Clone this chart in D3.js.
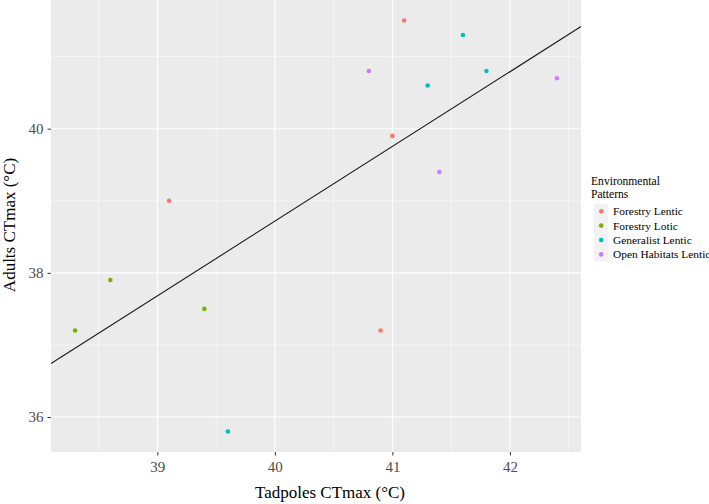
<!DOCTYPE html>
<html>
<head>
<meta charset="utf-8">
<script src="https://cdn.jsdelivr.net/npm/d3@7"></script>
<style>
  html, body { margin: 0; padding: 0; background: #fff; }
  svg { display: block; }
  text { font-family: "Liberation Serif", "Times New Roman", serif; }
</style>
</head>
<body>
<svg id="chart" width="709" height="504"></svg>
<script>
// ---- data ----
const groups = ["Forestry Lentic", "Forestry Lotic", "Generalist Lentic", "Open Habitats Lentic"];
const colors = ["#F8766D", "#7CAE00", "#00BFC4", "#C77CFF"];
const tadpolesForestryLentic = [39.1, 41.0, 41.1, 40.9];
const adultsForestryLentic   = [39.0, 39.9, 41.5, 37.2];
const tadpolesForestryLotic  = [38.3, 38.6, 39.4];
const adultsForestryLotic    = [37.2, 37.9, 37.5];
const tadpolesGeneralist     = [39.6, 41.3, 41.6, 41.8];
const adultsGeneralist       = [35.8, 40.6, 41.3, 40.8];
const tadpolesOpenHabitats   = [40.8, 41.4, 42.4];
const adultsOpenHabitats     = [40.8, 39.4, 40.7];
const xTicks = [39, 40, 41, 42];
const yTicks = [36, 38, 40];
const xMinor = [38.5, 39.5, 40.5, 41.5, 42.5];
const yMinor = [37, 39, 41];
const legendTitle = ["Environmental", "Patterns"];

const xs = [tadpolesForestryLentic, tadpolesForestryLotic, tadpolesGeneralist, tadpolesOpenHabitats];
const ys = [adultsForestryLentic, adultsForestryLotic, adultsGeneralist, adultsOpenHabitats];
const points = [];
groups.forEach((g, i) => xs[i].forEach((x, j) => points.push({g: g, ci: i, x: x, y: ys[i][j]})));

// ---- layout ----
const panel = {left: 51, right: 581, top: 0, bottom: 452};
const svg = d3.select("#chart");

const xExt = d3.extent(points, d => d.x);
const yExt = d3.extent(points, d => d.y);
const xPad = (xExt[1] - xExt[0]) * 0.05, yPad = (yExt[1] - yExt[0]) * 0.05;
const x = d3.scaleLinear().domain([xExt[0] - xPad, xExt[1] + xPad]).range([panel.left, panel.right]);
const y = d3.scaleLinear().domain([yExt[0] - yPad, yExt[1] + yPad]).range([panel.bottom, panel.top]);

// panel background
svg.append("rect").attr("x", panel.left).attr("y", panel.top)
  .attr("width", panel.right - panel.left).attr("height", panel.bottom - panel.top)
  .attr("fill", "#EBEBEB");

const grid = svg.append("g");
grid.selectAll(".xmin").data(xMinor).join("line")
  .attr("x1", d => x(d)).attr("x2", d => x(d)).attr("y1", panel.top).attr("y2", panel.bottom)
  .attr("stroke", "#fff").attr("stroke-width", 0.55).attr("opacity", 0.9);
grid.selectAll(".ymin").data(yMinor).join("line")
  .attr("y1", d => y(d)).attr("y2", d => y(d)).attr("x1", panel.left).attr("x2", panel.right)
  .attr("stroke", "#fff").attr("stroke-width", 0.55).attr("opacity", 0.9);
grid.selectAll(".xmaj").data(xTicks).join("line")
  .attr("x1", d => x(d)).attr("x2", d => x(d)).attr("y1", panel.top).attr("y2", panel.bottom)
  .attr("stroke", "#fff").attr("stroke-width", 1.1);
grid.selectAll(".ymaj").data(yTicks).join("line")
  .attr("y1", d => y(d)).attr("y2", d => y(d)).attr("x1", panel.left).attr("x2", panel.right)
  .attr("stroke", "#fff").attr("stroke-width", 1.1);

// axes
const xAxis = svg.append("g").attr("transform", `translate(0,${panel.bottom})`)
  .call(d3.axisBottom(x).tickValues(xTicks).tickSize(3.5).tickPadding(6).tickFormat(d3.format("d")));
const yAxis = svg.append("g").attr("transform", `translate(${panel.left},0)`)
  .call(d3.axisLeft(y).tickValues(yTicks).tickSize(3.5).tickPadding(4).tickFormat(d3.format("d")));
[xAxis, yAxis].forEach(a => {
  a.select(".domain").remove();
  a.selectAll(".tick line").attr("stroke", "#333333").attr("stroke-width", 1);
  a.selectAll(".tick text").attr("fill", "#4D4D4D").style("font-size", "15px")
    .style("font-family", '"Liberation Serif", "Times New Roman", serif');
});

// regression line (least squares over all points), drawn across the panel
const mx = d3.mean(points, d => d.x), my = d3.mean(points, d => d.y);
const slope = d3.sum(points, d => (d.x - mx) * (d.y - my)) / d3.sum(points, d => (d.x - mx) ** 2);
const intercept = my - slope * mx;
const [x0, x1] = x.domain();
svg.append("line")
  .attr("x1", x(x0)).attr("y1", y(intercept + slope * x0))
  .attr("x2", x(x1)).attr("y2", y(intercept + slope * x1))
  .attr("stroke", "#1a1a1a").attr("stroke-width", 1.1);

// points
svg.append("g").selectAll("circle").data(points).join("circle")
  .attr("cx", d => x(d.x)).attr("cy", d => y(d.y)).attr("r", 2.3)
  .attr("fill", d => colors[d.ci]);

// axis titles
svg.append("text").attr("x", 330).attr("y", 497.5).attr("text-anchor", "middle")
  .style("font-size", "17px").attr("fill", "#000").text("Tadpoles CTmax (°C)");
svg.append("text").attr("transform", "translate(14.5,225) rotate(-90)").attr("text-anchor", "middle")
  .style("font-size", "17px").attr("fill", "#000").text("Adults CTmax (°C)");

// legend
const leg = svg.append("g");
legendTitle.forEach((t, i) => leg.append("text").attr("x", 591).attr("y", 185 + i * 13.3)
  .style("font-size", "11.6px").text(t));
const keyY0 = 204, keyH = 14.4;
leg.append("rect").attr("x", 594).attr("y", keyY0).attr("width", 14.4).attr("height", keyH * groups.length)
  .attr("fill", "#F2F2F2");
groups.forEach((g, i) => {
  const cy = keyY0 + keyH * i + keyH / 2;
  leg.append("circle").attr("cx", 601.2).attr("cy", cy).attr("r", 2.3).attr("fill", colors[i]);
  leg.append("text").attr("x", 613).attr("y", cy + 4).style("font-size", "11.4px").text(g);
});
</script>
</body>
</html>
